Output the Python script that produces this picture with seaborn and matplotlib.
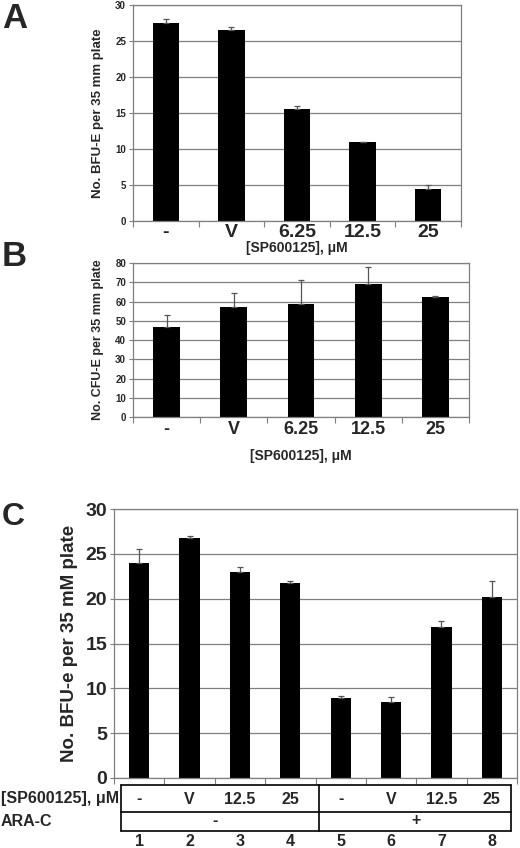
import matplotlib
matplotlib.use("Agg")
import matplotlib.pyplot as plt
import seaborn as sns
import pandas as pd
import numpy as np
from matplotlib.lines import Line2D

sns.set_theme(style="white")
plt.rcParams['font.family'] = ['Liberation Sans', 'DejaVu Sans']
plt.rcParams['font.weight'] = 'bold'

# ---- data ----
cats_ab = ["-", "V", "6.25", "12.5", "25"]
a_vals = [27.5, 26.5, 15.5, 11.0, 4.5]
a_err = [0.5, 0.5, 0.5, 0.0, 0.5]
b_vals = [46.5, 57.0, 58.5, 69.0, 62.5]
b_err = [6.5, 7.5, 12.5, 9.0, 0.5]
c_ids = ["1", "2", "3", "4", "5", "6", "7", "8"]
c_sp = ["-", "V", "12.5", "25", "-", "V", "12.5", "25"]
c_arac = ["-", "+"]
c_vals = [24.0, 26.8, 23.0, 21.7, 8.9, 8.5, 16.8, 20.2]
c_err = [1.5, 0.2, 0.5, 0.3, 0.3, 0.5, 0.7, 1.8]

W, H = 520, 848
fig = plt.figure(figsize=(W / 100, H / 100), dpi=100)

def px_axes(l, t, r, b):
    return fig.add_axes([l / W, 1 - b / H, (r - l) / W, (b - t) / H])

GRID = "#7f7f7f"

def style_axes(ax, ymax, ystep, ytick_fs, n):
    ax.set_ylim(0, ymax)
    ax.set_xlim(-0.5, n - 0.5)
    ax.set_yticks(np.arange(0, ymax + 0.01, ystep))
    ax.yaxis.grid(True, color=GRID, lw=0.9)
    ax.set_axisbelow(True)
    for s in ax.spines.values():
        s.set_color(GRID)
        s.set_linewidth(0.9)
    ax.tick_params(axis='y', left=True, length=3, color=GRID, width=0.8,
                   labelsize=ytick_fs, pad=2)
    ax.tick_params(axis='x', bottom=False, length=0)
    ax.set_xticks(np.arange(-0.5, n, 1.0), minor=True)
    ax.tick_params(axis='x', which='minor', bottom=True, length=4, color=GRID, width=0.8)
    for lab in ax.get_yticklabels():
        lab.set_fontweight('bold')

def bars(ax, cats, vals, errs, width):
    df = pd.DataFrame({"cat": cats, "val": vals})
    sns.barplot(data=df, x="cat", y="val", order=cats, color="black",
                saturation=1, width=width, errorbar=None, ax=ax,
                edgecolor="black", linewidth=0)
    x = np.arange(len(cats))
    ax.errorbar(x, vals, yerr=[np.zeros(len(errs)), errs], fmt="none",
                ecolor="#555555", elinewidth=0.9, capsize=2, capthick=0.9, zorder=5)

# ---- Panel A ----
axA = px_axes(133, 5, 461, 221)
bars(axA, cats_ab, a_vals, a_err, 0.4)
style_axes(axA, 30, 5, 7, 5)
axA.set_xticklabels(cats_ab, fontsize=14, fontweight='bold')
axA.tick_params(axis='x', pad=2)
axA.set_xlabel("[SP600125], μM", fontsize=10, fontweight='bold', labelpad=0)
axA.set_ylabel("No. BFU-E per 35 mm plate", fontsize=9.5, fontweight='bold', labelpad=8)
fig.text(2 / W, 1 - 2 / H, "A", fontsize=25, fontweight='bold', va='top', ha='left')

# ---- Panel B ----
axB = px_axes(133, 263, 469, 417)
bars(axB, cats_ab, b_vals, b_err, 0.4)
style_axes(axB, 80, 10, 7, 5)
axB.set_xticklabels(cats_ab, fontsize=13, fontweight='bold')
axB.tick_params(axis='x', pad=3)
axB.set_xlabel("[SP600125], μM", fontsize=10, fontweight='bold', labelpad=8)
axB.set_ylabel("No. CFU-E per 35 mm plate", fontsize=9, fontweight='bold', labelpad=8)
fig.text(2 / W, 1 - 240 / H, "B", fontsize=25, fontweight='bold', va='top', ha='left')

# ---- Panel C ----
axC = px_axes(114, 509, 517, 778)
bars(axC, c_ids, c_vals, c_err, 0.4)
style_axes(axC, 30, 5, 14, 8)
axC.set_xticklabels([])
axC.set_xlabel("")
axC.set_ylabel("No. BFU-e per 35 mM plate", fontsize=13.5, fontweight='bold', labelpad=5)
fig.text(2 / W, 1 - 502 / H, "C", fontsize=23, fontweight='bold', va='top', ha='left')

# table below panel C
def fy(py):
    return 1 - py / H

def fx(px):
    return px / W

t_left, t_right, t_div = 121, 511, 319
y_top, y_mid, y_bot = 785, 812, 831
lw = 1.2
for (x0, y0, x1, y1) in [
    (t_left, y_top, t_right, y_top),
    (t_left, y_mid, t_right, y_mid),
    (t_left, y_bot, t_right, y_bot),
    (t_left, y_top, t_left, y_bot),
    (t_right, y_top, t_right, y_bot),
    (t_div, y_top, t_div, y_bot),
]:
    fig.add_artist(Line2D([fx(x0), fx(x1)], [fy(y0), fy(y1)], color="black", lw=lw))

trans = axC.get_xaxis_transform()
def ax_y(py):
    return (778 - py) / (778 - 509)

for i, lab in enumerate(c_sp):
    axC.text(i, ax_y(799), lab, transform=trans, ha='center', va='center',
             fontsize=11.5, fontweight='bold', clip_on=False)
for i, lab in enumerate(c_ids):
    axC.text(i, ax_y(841), lab, transform=trans, ha='center', va='center',
             fontsize=11.5, fontweight='bold', clip_on=False)
for g, lab in enumerate(c_arac):
    axC.text(1.5 + 4 * g, ax_y(821), lab, transform=trans, ha='center', va='center',
             fontsize=11.5, fontweight='bold', clip_on=False)

fig.text(fx(1), fy(799), "[SP600125], μM", ha='left', va='center', fontsize=11.5, fontweight='bold')
fig.text(fx(1), fy(821), "ARA-C", ha='left', va='center', fontsize=11.5, fontweight='bold')

fig.savefig("out.png", dpi=100)
